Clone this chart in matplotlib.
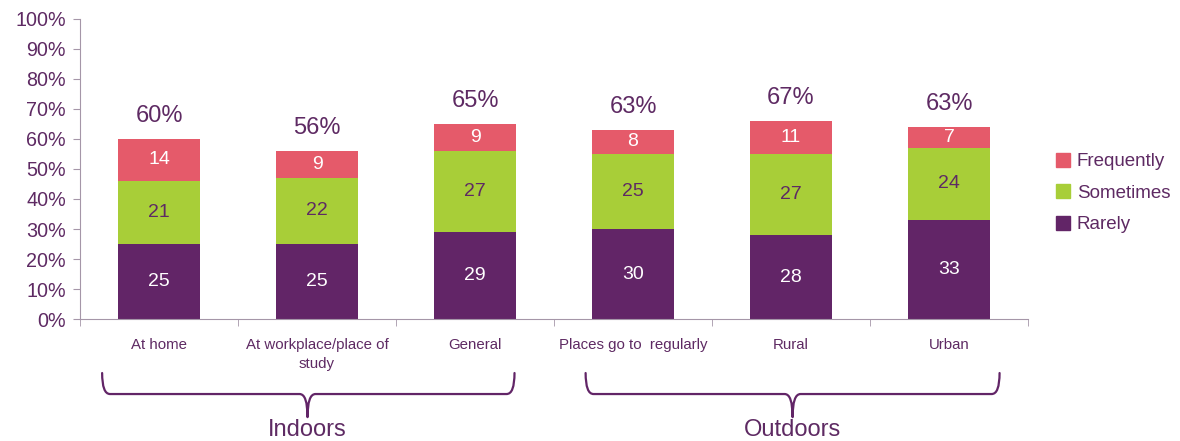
import matplotlib.pyplot as plt
from matplotlib.path import Path
from matplotlib.patches import PathPatch, Patch
from matplotlib import transforms
import numpy as np

plt.rcParams['font.family'] = ['Liberation Sans', 'DejaVu Sans']

CATEGORIES = ['At home', 'At workplace/place of\nstudy', 'General',
              'Places go to  regularly', 'Rural', 'Urban']
RARELY = [25, 25, 29, 30, 28, 33]
SOMETIMES = [21, 22, 27, 25, 27, 24]
FREQUENTLY = [14, 9, 9, 8, 11, 7]
TOTALS = [60, 56, 65, 63, 67, 63]
GROUPS = ['Indoors', 'Outdoors']

PURPLE = '#622567'
GREEN = '#A8CE38'
RED = '#E55A6A'
TEXT = '#5E2A63'
SPINE = '#A596A8'

x = np.arange(len(CATEGORIES))
width = 0.52

fig = plt.figure(figsize=(11.8, 4.41), dpi=100)
ax = fig.add_axes([0.0678, 0.2766, 0.8034, 0.6804])

rarely = np.array(RARELY)
sometimes = np.array(SOMETIMES)
frequently = np.array(FREQUENTLY)

ax.bar(x, rarely, width, color=PURPLE)
ax.bar(x, sometimes, width, bottom=rarely, color=GREEN)
ax.bar(x, frequently, width, bottom=rarely + sometimes, color=RED)

# segment values and totals above each stack
for i in range(len(x)):
    ax.text(x[i], rarely[i] / 2, str(rarely[i]), ha='center', va='center',
            color='white', fontsize=14)
    ax.text(x[i], rarely[i] + sometimes[i] / 2, str(sometimes[i]),
            ha='center', va='center', color=TEXT, fontsize=14)
    top = rarely[i] + sometimes[i]
    ax.text(x[i], top + frequently[i] / 2, str(frequently[i]),
            ha='center', va='center', color='white', fontsize=14)
    ax.text(x[i], top + frequently[i] + 7.7, '%d%%' % TOTALS[i],
            ha='center', va='center', color=TEXT, fontsize=17)

ax.set_xlim(-0.5, len(x) - 0.5)
ax.set_ylim(0, 100)
ax.set_yticks(np.arange(0, 101, 10))
ax.set_yticklabels(['%d%%' % v for v in range(0, 101, 10)])
ax.tick_params(axis='y', colors=SPINE, labelcolor=TEXT, labelsize=14.2,
               length=5, direction='out', pad=5)

ax.set_xticks(x)
ax.set_xticklabels(CATEGORIES, color=TEXT, fontsize=10.8, linespacing=1.4)
ax.tick_params(axis='x', length=0, pad=14)
ax.set_xticks(np.arange(len(x) + 1) - 0.5, minor=True)
ax.tick_params(axis='x', which='minor', length=5, colors=SPINE)

for side in ['top', 'right']:
    ax.spines[side].set_visible(False)
for side in ['left', 'bottom']:
    ax.spines[side].set_color(SPINE)

# group brackets under the category labels
trans = transforms.blended_transform_factory(ax.transData, ax.transAxes)


def bracket(x0, x1, xm, label):
    y_end, y_line, y_tip = -0.18, -0.25, -0.327
    rx = 0.05
    verts = [
        (x0, y_end), (x0, y_line), (x0 + rx, y_line),
        (xm - rx, y_line), (xm, y_line), (xm, y_tip),
        (xm, y_line), (xm + rx, y_line),
        (x1 - rx, y_line), (x1, y_line), (x1, y_end),
    ]
    codes = [Path.MOVETO, Path.CURVE3, Path.CURVE3,
             Path.LINETO, Path.CURVE3, Path.CURVE3,
             Path.CURVE3, Path.CURVE3,
             Path.LINETO, Path.CURVE3, Path.CURVE3]
    patch = PathPatch(Path(verts, codes), fill=False, edgecolor=PURPLE,
                      lw=1.6, transform=trans, clip_on=False,
                      capstyle='round', joinstyle='round')
    ax.add_patch(patch)
    ax.text(xm, -0.37, label, transform=trans, ha='center', va='center',
            color=TEXT, fontsize=17, clip_on=False)


bracket(-0.36, 2.25, 0.94, GROUPS[0])
bracket(2.70, 5.32, 4.01, GROUPS[1])

handles = [Patch(color=RED, label='Frequently'),
           Patch(color=GREEN, label='Sometimes'),
           Patch(color=PURPLE, label='Rarely')]
leg = fig.legend(handles=handles, loc='center left',
                 bbox_to_anchor=(1056 / 1180, 1 - 193 / 441),
                 frameon=False, fontsize=13.5, handlelength=0.75,
                 handleheight=0.75, handletextpad=0.35, labelspacing=0.75,
                 borderpad=0, borderaxespad=0)
for t in leg.get_texts():
    t.set_color(TEXT)

fig.savefig('out.png', dpi=100)
